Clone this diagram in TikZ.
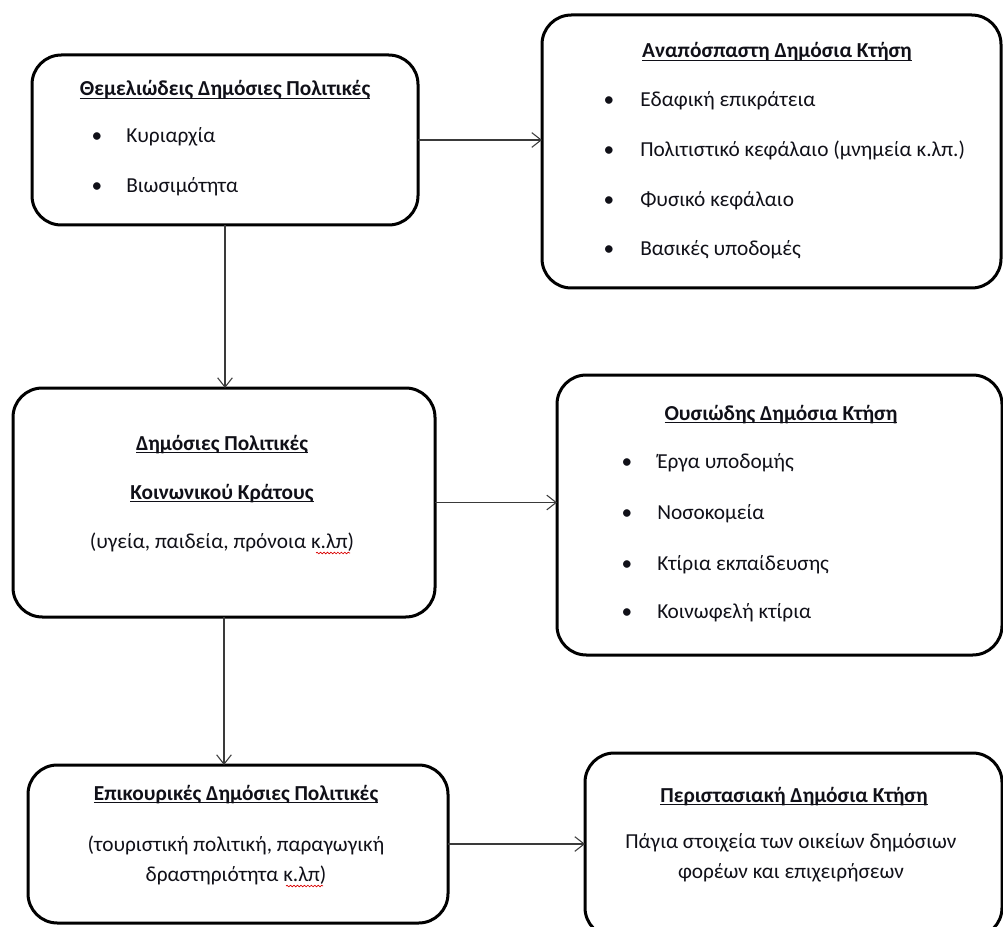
\documentclass[tikz,border=0pt]{standalone}
\usepackage{fontspec}
\setmainfont{Carlito}
\usetikzlibrary{arrows.meta,decorations.pathmorphing}
\newcommand\ulin[1]{\setbox0\hbox{#1}\rlap{\rule[-2.3pt]{\wd0}{0.85pt}}\box0}
\definecolor{txtc}{HTML}{101018}
\definecolor{arrc}{HTML}{3A3A3A}
\tikzset{
  box/.style={draw, line width=2.25pt, rounded corners=22pt, outer sep=0pt, inner sep=0pt},
  txt/.style={anchor=base, inner sep=0pt, text=txtc, font=\fontsize{16}{19}\selectfont},
  hd/.style={txt, font=\fontsize{16}{19}\selectfont\bfseries},
  itm/.style={txt, anchor=base west},
  bul/.style={txt, anchor=base},
  arr/.style={draw=arrc, line width=0.8pt, -{Straight Barb[length=7pt,width=11pt,line width=0.8pt]}},
  spell/.style={draw=red!85!black, line width=0.5pt, decorate, decoration={snake, amplitude=0.6pt, segment length=2.6pt}}
}
\begin{document}
\begin{tikzpicture}[x=0.75pt,y=-0.75pt]
\useasboundingbox (0,0) rectangle (1003,927);
% boxes
\node[box, minimum width=289.5pt, minimum height=127.5pt] (A) at (225,140) {};
\node[box, minimum width=344.25pt, minimum height=204.75pt] (B) at (771.5,151.5) {};
\node[box, minimum width=316.5pt, minimum height=171.75pt] (C) at (224,502.5) {};
\node[box, minimum width=333.75pt, minimum height=210pt] (D) at (779.5,515) {};
\node[box, minimum width=315pt, minimum height=118.5pt] (E) at (238,844) {};
\node[box, minimum width=312.75pt, minimum height=138pt] (F) at (793.5,845) {};
% connectors
\draw[arr] (A.east) -- (A.east -| B.west);
\draw[arr] (A.south) -- (A.south |- C.north);
\draw[arr] (C.east) -- (C.east -| D.west);
\draw[arr] (C.south) -- (C.south |- E.north);
\draw[arr] (E.east) -- (E.east -| F.west);
% box A text
\node[hd] (Ah) at (225,96) {\ulin{Θεμελιώδεις Δημόσιες Πολιτικές}};
\node[bul] (Ab1) at (97,143) {•};
\node[itm] (Ai1) at (126,143) {Κυριαρχία};
\node[bul] (Ab2) at (97,193) {•};
\node[itm] (Ai2) at (126,193) {Βιωσιμότητα};
% box B text
\node[hd] (Bh) at (777,58) {\ulin{Αναπόσπαστη Δημόσια Κτήση}};
\node[bul] (Bb1) at (609,107) {•};
\node[itm] (Bi1) at (640,107) {Εδαφική επικράτεια};
\node[bul] (Bb2) at (609,157) {•};
\node[itm] (Bi2) at (640,157) {Πολιτιστικό κεφάλαιο (μνημεία κ.λπ.)};
\node[bul] (Bb3) at (609,207) {•};
\node[itm] (Bi3) at (640,207) {Φυσικό κεφάλαιο};
\node[bul] (Bb4) at (609,256) {•};
\node[itm] (Bi4) at (640,256) {Βασικές υποδομές};
% box C text
\node[hd] (Ch1) at (222,450) {\ulin{Δημόσιες Πολιτικές}};
\node[hd] (Ch2) at (222,499) {\ulin{Κοινωνικού Κράτους}};
\node[txt] (Ct) at (222,548) {(υγεία, παιδεία, πρόνοια κ.λπ)};
\draw[spell] (316,553) -- (350,553);
% box D text
\node[hd] (Dh) at (781,420) {\ulin{Ουσιώδης Δημόσια Κτήση}};
\node[bul] (Db1) at (627,468) {•};
\node[itm] (Di1) at (657,468) {Έργα υποδομής};
\node[bul] (Db2) at (627,519) {•};
\node[itm] (Di2) at (657,519) {Νοσοκομεία};
\node[bul] (Db3) at (627,570) {•};
\node[itm] (Di3) at (657,570) {Κτίρια εκπαίδευσης};
\node[bul] (Db4) at (627,618) {•};
\node[itm] (Di4) at (657,618) {Κοινωφελή κτίρια};
% box E text
\node[hd] (Eh) at (236,800) {\ulin{Επικουρικές Δημόσιες Πολιτικές}};
\node[txt] (Et1) at (236,851) {(τουριστική πολιτική, παραγωγική};
\node[txt] (Et2) at (236,881) {δραστηριότητα κ.λπ)};
\draw[spell] (286,886) -- (323,886);
% box F text
\node[hd] (Fh) at (794,802) {\ulin{Περιστασιακή Δημόσια Κτήση}};
\node[txt] (Ft1) at (791,848) {Πάγια στοιχεία των οικείων δημόσιων};
\node[txt] (Ft2) at (791,878) {φορέων και επιχειρήσεων};
\end{tikzpicture}
\end{document}
